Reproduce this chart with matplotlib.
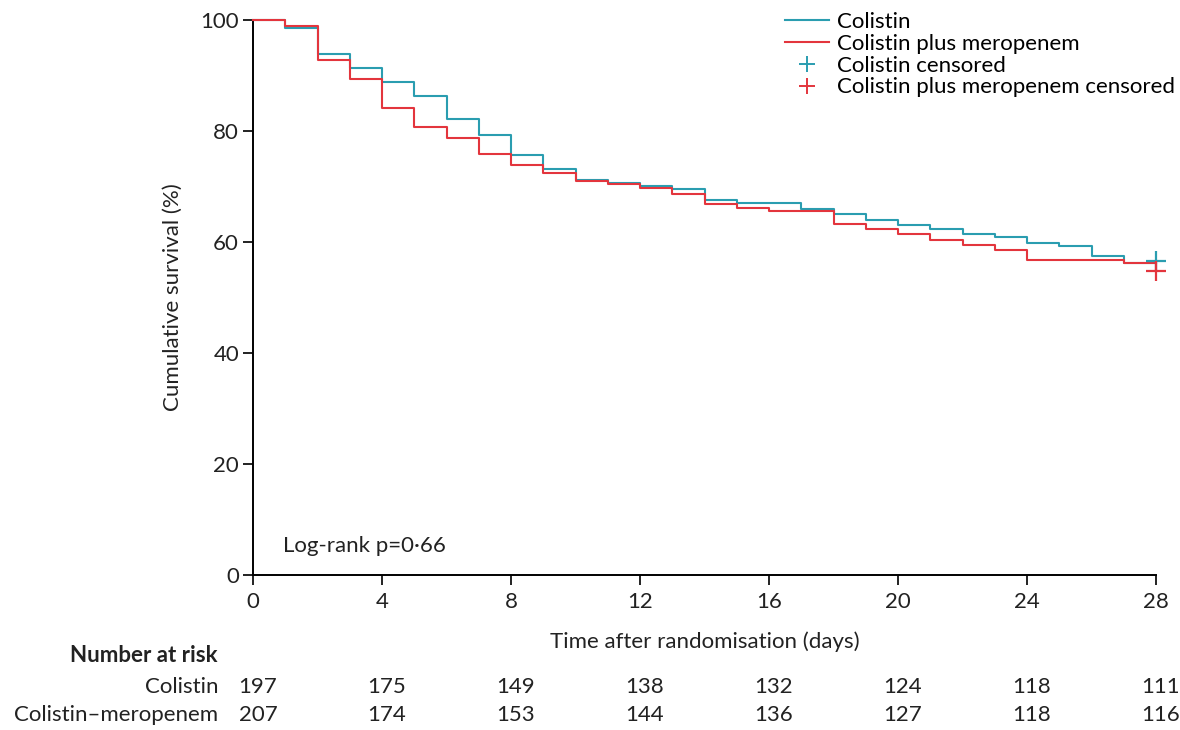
import matplotlib
matplotlib.use('Agg')
import matplotlib.pyplot as plt
from matplotlib.lines import Line2D

# survival (%) on each day interval [d, d+1), last value at day 28
days = list(range(0, 29))
colistin = [100, 98.5, 93.9, 91.4, 88.8, 86.3, 82.2, 79.2, 75.6, 73.1,
            71.1, 70.6, 70.1, 69.5, 67.5, 67.0, 67.0, 66.0, 65.0, 64.0,
            63.0, 62.4, 61.4, 60.9, 59.9, 59.3, 57.4, 56.3, 56.3]
combo = [100, 99.0, 92.8, 89.4, 84.1, 80.7, 78.7, 75.8, 73.9, 72.5,
         71.0, 70.5, 69.7, 68.7, 66.8, 66.2, 65.6, 65.6, 63.2, 62.3,
         61.4, 60.4, 59.5, 58.6, 56.8, 56.8, 56.8, 56.2, 54.8]
censor_x = [28]
colistin_censor = [56.5]
combo_censor = [54.8]

risk_days = [0, 4, 8, 12, 16, 20, 24, 28]
risk_colistin = [197, 175, 149, 138, 132, 124, 118, 111]
risk_combo = [207, 174, 153, 144, 136, 127, 118, 116]

teal = '#2a9db0'
red = '#e3353d'
txt = '#222222'
fs = 16

plt.rcParams['font.family'] = ['Lato', 'DejaVu Sans']
fig = plt.figure(figsize=(11.8, 7.3), dpi=100)
ax = fig.add_axes([253/1180, 1-575/730, (1156-253)/1180, (575-20)/730])

ax.step(days, colistin, where='post', color=teal, lw=1.5, clip_on=False, zorder=3)
ax.step(days, combo, where='post', color=red, lw=1.5, clip_on=False, zorder=3)
ax.plot(censor_x, colistin_censor, '+', color=teal, ms=15, mew=1.6, clip_on=False, zorder=4)
ax.plot(censor_x, combo_censor, '+', color=red, ms=15, mew=1.6, clip_on=False, zorder=4)

ax.set_xlim(0, 28)
ax.set_ylim(0, 100)
ax.set_xticks(range(0, 29, 4))
ax.set_yticks(range(0, 101, 20))
for s in ['top', 'right']:
    ax.spines[s].set_visible(False)
for s in ['left', 'bottom']:
    ax.spines[s].set_linewidth(1.4)
ax.tick_params(direction='out', length=7, width=1.4, labelsize=fs, colors=txt)
ax.tick_params(axis='x', pad=5)
ax.tick_params(axis='y', pad=3)
ax.set_xlabel('Time after randomisation (days)', fontsize=fs, color=txt, labelpad=14)
ax.set_ylabel('Cumulative survival (%)', fontsize=fs, color=txt, labelpad=13)

ax.text(0.93, 5.2, 'Log-rank p=0·66', fontsize=fs, color=txt, va='center', ha='left')

handles = [Line2D([], [], color=teal, lw=1.5),
           Line2D([], [], color=red, lw=1.5),
           Line2D([], [], color=teal, marker='+', ls='none', ms=11, mew=1.4),
           Line2D([], [], color=red, marker='+', ls='none', ms=11, mew=1.4)]
labels = ['Colistin', 'Colistin plus meropenem', 'Colistin censored',
          'Colistin plus meropenem censored']
fig.legend(handles, labels, loc='upper left', bbox_to_anchor=(785/1180, 1-12/730),
           frameon=False, fontsize=fs, handlelength=2.0, handletextpad=0.35,
           labelspacing=0.08, borderpad=0, borderaxespad=0)

# number at risk table
fig.text(218/1180, 1-656/730, 'Number at risk', fontsize=fs, fontweight='bold',
         ha='right', va='center', color=txt)
fig.text(218/1180, 1-687/730, 'Colistin', fontsize=fs, ha='right', va='center', color=txt)
fig.text(218/1180, 1-715/730, 'Colistin–meropenem', fontsize=fs, ha='right', va='center', color=txt)
for d, a, b in zip(risk_days, risk_colistin, risk_combo):
    xf = (253 + d * (1156 - 253) / 28 + 5) / 1180
    fig.text(xf, 1-687/730, str(a), fontsize=fs, ha='center', va='center', color=txt)
    fig.text(xf, 1-715/730, str(b), fontsize=fs, ha='center', va='center', color=txt)

fig.savefig('out.png', dpi=100)
